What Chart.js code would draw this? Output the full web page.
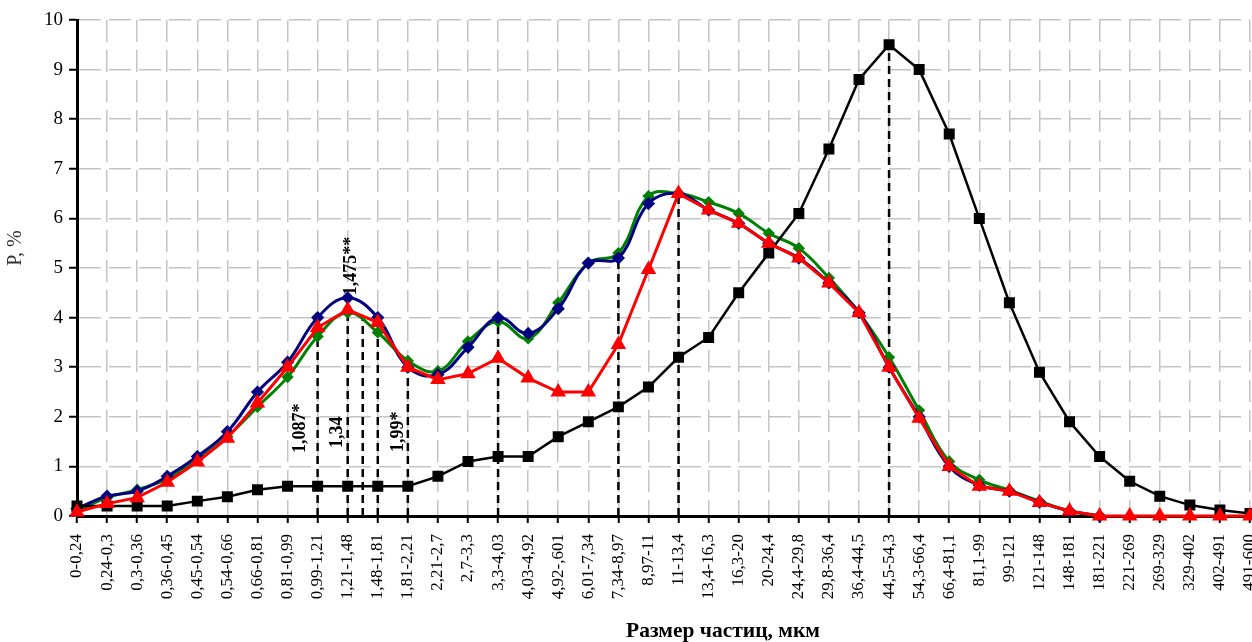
<!DOCTYPE html>
<html>
<head>
<meta charset="utf-8">
<title>Размер частиц</title>
<script src="https://cdn.jsdelivr.net/npm/chart.js"></script>
<style>
    body { margin: 0; background: #fff; overflow: hidden; }
    /* a bit wider than the window so the last category sits on the right edge */
    #wrap { width: 1259px; height: 642px; }
</style>
</head>
<body>
<div id="wrap"><canvas id="myChart"></canvas></div>
<script>
    const categories = ['0-0,24', '0,24-0,3', '0,3-0,36', '0,36-0,45', '0,45-0,54', '0,54-0,66', '0,66-0,81',
        '0,81-0,99', '0,99-1,21', '1,21-1,48', '1,48-1,81', '1,81-2,21', '2,21-2,7', '2,7-3,3', '3,3-4,03',
        '4,03-4,92', '4,92-,601', '6,01-7,34', '7,34-8,97', '8,97-11', '11-13,4', '13,4-16,3', '16,3-20',
        '20-24,4', '24,4-29,8', '29,8-36,4', '36,4-44,5', '44,5-54,3', '54,3-66,4', '66,4-81,1', '81,1-99',
        '99-121', '121-148', '148-181', '181-221', '221-269', '269-329', '329-402', '402-491', '491-600'];

    const blueValues = [0.15, 0.4, 0.5, 0.8, 1.2, 1.7, 2.5, 3.1, 4.0, 4.4, 4.0, 3.0, 2.85, 3.4, 4.0, 3.68,
        4.18, 5.1, 5.2, 6.3, 6.5, 6.17, 5.9, 5.5, 5.2, 4.7, 4.1, 3.0, 2.0, 1.0, 0.62, 0.5, 0.28, 0.1, 0.0];
    const greenValues = [0.1, 0.37, 0.53, 0.75, 1.13, 1.6, 2.2, 2.8, 3.62, 4.1, 3.7, 3.13, 2.92, 3.52, 3.92, 3.58,
        4.3, 5.1, 5.3, 6.45, 6.5, 6.33, 6.1, 5.7, 5.4, 4.8, 4.1, 3.2, 2.13, 1.1, 0.73, 0.52, 0.3, 0.1, 0.0];
    const redValues = [0.08, 0.25, 0.37, 0.68, 1.09, 1.57, 2.28, 3.0, 3.8, 4.16, 3.9, 3.0, 2.75, 2.87, 3.18, 2.78,
        2.5, 2.5, 3.46, 4.97, 6.5, 6.17, 5.9, 5.5, 5.2, 4.7, 4.1, 3.0, 1.97, 1.0, 0.6, 0.5, 0.27, 0.1, 0.0,
        0, 0, 0, 0, 0];
    const blackValues = [0.2, 0.2, 0.2, 0.2, 0.3, 0.39, 0.53, 0.6, 0.6, 0.6, 0.6, 0.6, 0.8, 1.1, 1.2, 1.2,
        1.6, 1.9, 2.2, 2.6, 3.2, 3.6, 4.5, 5.3, 6.1, 7.4, 8.8, 9.5, 9.0, 7.7, 6.0, 4.3, 2.9, 1.9, 1.2,
        0.7, 0.4, 0.22, 0.12, 0.05];

    // dashed drop lines: category position and the value they reach
    const dropIndex = [8, 9, 9.5, 10, 11, 14, 18, 20, 27];
    const dropTop = [3.62, 4.4, 4.0, 3.8, 3.0, 4.0, 5.2, 6.5, 9.5];

    // rotated labels: text, category position, value where the text starts
    const noteText = ['1,087*', '1,34', '1,475**', '1,99*'];
    const noteIndex = [7.41, 8.64, 9.11, 10.67];
    const noteValue = [1.27, 1.37, 4.45, 1.29];

    const serif = "'Liberation Serif', 'Times New Roman', serif";

    const extras = {
        id: 'extras',
        beforeDatasetsDraw(chart) {
            const { ctx, scales: { x, y } } = chart;
            ctx.save();
            ctx.strokeStyle = '#000';
            ctx.lineWidth = 2.5;
            ctx.setLineDash([8, 5]);
            dropIndex.forEach((idx, i) => {
                const px = x.getPixelForValue(idx);
                ctx.beginPath();
                ctx.moveTo(px, y.getPixelForValue(0));
                ctx.lineTo(px, y.getPixelForValue(dropTop[i]));
                ctx.stroke();
            });
            ctx.setLineDash([]);
            ctx.font = 'bold 18px ' + serif;
            ctx.fillStyle = '#000';
            ctx.textAlign = 'left';
            ctx.textBaseline = 'middle';
            noteText.forEach((t, i) => {
                ctx.save();
                ctx.translate(x.getPixelForValue(noteIndex[i]), y.getPixelForValue(noteValue[i]));
                ctx.rotate(-Math.PI / 2);
                ctx.fillText(t, 0, 0);
                ctx.restore();
            });
            ctx.restore();
        },
        afterDraw(chart) {
            const ctx = chart.ctx;
            ctx.save();
            ctx.fillStyle = '#000';
            ctx.textAlign = 'center';
            ctx.textBaseline = 'middle';
            ctx.font = 'bold 21.5px ' + serif;
            ctx.fillText('Размер частиц, мкм', 723, 631);
            ctx.fillStyle = '#333';
            ctx.font = '20px ' + serif;
            ctx.translate(16, 248);
            ctx.rotate(-Math.PI / 2);
            ctx.fillText('P, %', 0, 0);
            ctx.restore();
        }
    };

    const ctx = document.getElementById('myChart').getContext('2d');
    const myChart = new Chart(ctx, {
        type: 'line',
        data: {
            labels: categories,
            datasets: [{
                label: 'red',
                data: redValues,
                borderColor: '#ff0000',
                backgroundColor: '#ff0000',
                borderWidth: 3,
                pointStyle: 'triangle',
                pointRadius: 6,
                tension: 0,
                clip: false
            }, {
                label: 'black',
                data: blackValues,
                borderColor: '#000',
                backgroundColor: '#000',
                borderWidth: 2.5,
                pointStyle: 'rect',
                pointRadius: 6,
                tension: 0,
                clip: false
            }, {
                label: 'blue',
                data: blueValues,
                borderColor: '#000080',
                backgroundColor: '#000080',
                borderWidth: 3,
                pointStyle: 'rectRot',
                pointRadius: 4.5,
                tension: 0.4,
                clip: false
            }, {
                label: 'green',
                data: greenValues,
                borderColor: '#008000',
                backgroundColor: '#008000',
                borderWidth: 3,
                pointStyle: 'rectRot',
                pointRadius: 4,
                tension: 0.4,
                clip: false
            }]
        },
        options: {
            responsive: true,
            maintainAspectRatio: false,
            animation: false,
            layout: { padding: { left: 0, top: 20, right: 2, bottom: 0 } },
            plugins: {
                legend: { display: false },
                tooltip: { enabled: false }
            },
            scales: {
                x: {
                    offset: false,
                    grid: {
                        color: '#c4c4c4',
                        lineWidth: 1.5,
                        tickColor: '#000',
                        tickWidth: 2,
                        tickLength: 7
                    },
                    border: { display: true, color: '#000', width: 3, dash: [22, 8] },
                    ticks: {
                        autoSkip: false,
                        maxRotation: 90,
                        minRotation: 90,
                        padding: 11,
                        color: '#000',
                        font: { family: serif, size: 17 }
                    },
                    afterFit(scale) {
                        scale.height = 126;
                        scale.paddingLeft = 0;
                        scale.paddingRight = 0;
                    }
                },
                y: {
                    min: 0,
                    max: 10,
                    grid: {
                        color: '#c4c4c4',
                        lineWidth: 1.5,
                        tickColor: '#000',
                        tickWidth: 2,
                        tickLength: 8
                    },
                    border: { display: true, color: '#000', width: 3, dash: [22, 8] },
                    ticks: {
                        stepSize: 1,
                        padding: 6,
                        color: '#000',
                        font: { family: serif, size: 19 }
                    },
                    afterFit(scale) {
                        scale.width = 77;
                        scale.paddingTop = 0;
                        scale.paddingBottom = 0;
                    }
                }
            }
        },
        plugins: [extras]
    });
</script>
</body>
</html>
